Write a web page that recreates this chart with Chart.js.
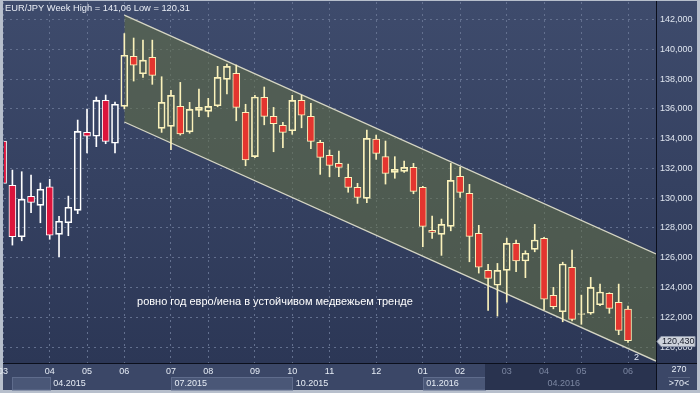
<!DOCTYPE html>
<html>
<head>
<meta charset="utf-8">
<script src="https://cdn.jsdelivr.net/npm/chart.js@4.4.0/dist/chart.umd.min.js"></script>
<style>
  html, body { margin: 0; padding: 0; background: #b7bfcc; }
  #wrap { width: 700px; height: 393px; }
</style>
</head>
<body>
<div id="wrap"><canvas id="chart" width="700" height="393"></canvas></div>
<script>
// ==== EUR/JPY weekly candles, week 0 = first week of March 2015 ====
const opens  = [133.84,130.86,127.41,130.13,129.52,130.77,127.57,128.35,129.18,134.42,
                134.16,136.57,133.69,136.17,139.53,138.36,139.46,134.69,134.83,136.17,
                134.46,135.90,135.83,136.21,137.98,138.39,135.77,132.79,136.78,135.50,
                134.89,134.53,136.57,135.50,133.75,132.88,132.34,131.40,130.73,129.99,
                133.97,132.79,131.74,131.80,132.07,130.73,127.84,127.57,128.11,131.47,
                130.33,127.64,125.15,124.15,125.15,126.97,125.78,126.56,127.30,123.47,
                122.37,125.36,122.20,122.27,122.84,123.61,123.00,122.55];
const highs  = [134.30,131.89,131.78,131.56,131.02,131.27,128.78,130.14,135.25,135.99,
                136.80,136.93,136.46,141.06,140.76,140.62,140.62,138.16,137.25,137.78,
                136.44,137.33,136.71,138.86,139.01,138.95,136.31,136.91,137.47,136.10,
                135.10,136.91,136.91,136.37,133.89,133.24,133.17,132.29,131.00,134.58,
                134.24,133.84,132.79,132.50,132.34,130.80,128.80,128.60,132.34,132.07,
                130.93,128.18,125.56,125.62,127.32,127.19,126.47,128.24,127.37,124.01,
                125.70,126.52,123.49,124.68,124.23,123.65,124.23,122.76];
const lows   = [130.60,126.85,127.14,129.02,128.35,127.24,126.07,127.48,128.96,133.05,
                133.46,133.66,133.05,136.00,137.87,138.12,137.65,134.42,133.26,134.24,
                134.36,135.47,135.47,136.14,137.00,135.20,132.18,132.72,134.93,133.12,
                133.39,134.29,134.73,133.32,131.60,131.44,131.44,130.40,129.65,129.70,
                132.61,130.95,131.34,131.74,130.30,126.74,127.30,126.16,127.81,130.06,
                125.73,124.97,122.47,122.08,123.02,125.06,124.66,126.40,122.49,122.57,
                121.70,121.75,121.53,122.20,122.78,122.27,120.83,120.31];
const closes = [131.00,127.41,129.94,129.72,130.60,127.51,128.45,129.39,134.49,134.16,
                136.57,133.82,136.31,139.60,138.93,139.28,138.25,136.44,136.91,134.31,
                135.97,136.10,136.17,138.12,138.86,136.10,132.58,136.80,135.50,135.00,
                134.42,136.57,135.57,133.82,132.74,132.21,132.07,130.73,130.06,134.02,
                133.01,131.67,131.94,132.07,130.46,128.11,127.71,128.24,131.20,130.39,
                127.44,125.36,124.62,125.15,126.97,125.78,126.30,127.19,123.21,122.71,
                125.58,121.86,122.25,124.01,123.70,122.60,121.12,120.43];

// x axis: month ticks (week index) and their labels
const monthTickIdx = [0, 5, 9, 13, 18, 22, 27, 31, 35, 40, 45, 49, 54, 58, 62, 67];
const monthTickLbl = ['03','04','05','06','07','08','09','10','11','12','01','02','03','04','05','06'];
// lower row: quarters
const quarterIdx = [5, 18, 31, 45, 58];
const quarterLbl = ['04.2015', '07.2015', '10.2015', '01.2016', '04.2016'];
const shadedFrom = [1, 18, 45];
const shadedTo   = [5, 31, 51.65];
const darkFrom = 51.65;

// y axis
const yTicks = [120, 122, 124, 126, 128, 130, 132, 134, 136, 138, 140, 142];

// trend channel: start/end week and prices on both lines
const channelX     = [13, 70];
const channelUpper = [142.30, 126.25];
const channelLower = [135.12, 119.06];

const titleText = 'EUR/JPY Week High = 141,06 Low = 120,31';
const noteText  = 'ровно год евро/иена в устойчивом медвежьем тренде';
const notePos   = [14.36, 123.02];
const lastPrice = 120.43;

Chart.defaults.font.family = '"Liberation Sans", Arial, sans-serif';
Chart.defaults.font.size = 9;

const FONT = '"Liberation Sans", Arial, sans-serif';
const inChan = i => i >= channelX[0];
const borderCol = closes.map((c, i) => inChan(i) ? '#fbf2bb' : '#ffffff');
const bodyCol = closes.map((c, i) => c >= opens[i] ? 'rgba(0,0,0,0)' : (inChan(i) ? '#e4352f' : '#dc143c'));

const bodyData  = opens.map((o, i) => ({ x: i, y: [o, closes[i]] }));
const upperWick = opens.map((o, i) => ({ x: i, y: [Math.max(o, closes[i]), highs[i]] }));
const lowerWick = opens.map((o, i) => ({ x: i, y: [lows[i], Math.min(o, closes[i])] }));

const fmt = v => v.toFixed(3).replace('.', ',');

const panels = {
  id: 'panels',
  beforeDraw(chart) {
    const { ctx, chartArea: a, scales: { x } } = chart;
    const W = chart.width, H = chart.height;
    ctx.save();
    ctx.fillStyle = '#b7bfcc';
    ctx.fillRect(0, 0, W, H);
    const g = ctx.createLinearGradient(0, a.top, 0, a.bottom);
    g.addColorStop(0, '#3e4b6c');
    g.addColorStop(1, '#2c3756');
    ctx.fillStyle = g;
    ctx.fillRect(3, 1, W - 6, a.bottom - 1);
    // bottom strip
    ctx.fillStyle = '#3b4767';
    ctx.fillRect(3, a.bottom, W - 6, H - 3 - a.bottom);
    // shaded quarters
    for (let k = 0; k < shadedFrom.length; k++) {
      const x0 = Math.round(x.getPixelForValue(shadedFrom[k])) + 0.5;
      const x1 = Math.round(x.getPixelForValue(shadedTo[k])) + 0.5;
      ctx.fillStyle = '#4a5777';
      ctx.fillRect(x0, 377.5, x1 - x0, 12.5);
      ctx.strokeStyle = '#5f6c8c';
      ctx.lineWidth = 1;
      ctx.strokeRect(x0, 377.5, x1 - x0, 12.5);
    }
    // dimmed part of the time strip
    const dx = Math.round(x.getPixelForValue(darkFrom));
    ctx.fillStyle = '#29334f';
    ctx.fillRect(dx, a.bottom, a.right - dx, H - 3 - a.bottom);
    // quarter labels
    ctx.font = '9px ' + FONT;
    ctx.textBaseline = 'middle';
    ctx.textAlign = 'left';
    quarterIdx.forEach((q, k) => {
      ctx.fillStyle = q >= darkFrom ? '#7c87a2' : '#e6ecf5';
      ctx.fillText(quarterLbl[k], x.getPixelForValue(q) + 3.5, 384);
    });
    ctx.restore();
  },
  afterDraw(chart) {
    const { ctx, chartArea: a, scales: { x, y } } = chart;
    const W = chart.width, H = chart.height;
    ctx.save();
    // separators
    ctx.strokeStyle = '#0b0f1c';
    ctx.lineWidth = 1;
    ctx.beginPath();
    ctx.moveTo(3, a.bottom + 0.5); ctx.lineTo(W - 3, a.bottom + 0.5);
    ctx.moveTo(a.right + 0.5, 1); ctx.lineTo(a.right + 0.5, H - 3);
    ctx.stroke();
    // title
    ctx.font = '9.3px ' + FONT;
    ctx.fillStyle = '#e9edf5';
    ctx.textBaseline = 'middle';
    ctx.textAlign = 'left';
    ctx.fillText(titleText, 5, 8.5);
    // note
    ctx.font = '11px ' + FONT;
    ctx.fillStyle = '#ffffff';
    ctx.fillText(noteText, x.getPixelForValue(notePos[0]), y.getPixelForValue(notePos[1]));
    // marker "2"
    ctx.font = '9px ' + FONT;
    ctx.fillStyle = '#e3e8f4';
    ctx.textAlign = 'center';
    ctx.fillText('2', x.getPixelForValue(67.9), y.getPixelForValue(119.3));
    // last price tag
    const py = Math.round(y.getPixelForValue(lastPrice)) + 0.5;
    ctx.beginPath();
    ctx.moveTo(a.right + 1, py);
    ctx.lineTo(a.right + 5, py - 5);
    ctx.lineTo(W - 5, py - 5);
    ctx.lineTo(W - 5, py + 5);
    ctx.lineTo(a.right + 5, py + 5);
    ctx.closePath();
    ctx.fillStyle = '#cdd2db';
    ctx.fill();
    ctx.strokeStyle = '#8e97aa';
    ctx.stroke();
    ctx.fillStyle = '#161c2b';
    ctx.textAlign = 'left';
    ctx.fillText(fmt(lastPrice), a.right + 6, py);
    // corner info
    ctx.fillStyle = '#e6ecf5';
    ctx.textAlign = 'center';
    ctx.fillText('270', 679, 370);
    ctx.fillText('>70<', 679, 384);
    ctx.strokeStyle = '#56627f';
    ctx.beginPath();
    ctx.moveTo(668, 377.5); ctx.lineTo(690, 377.5);
    ctx.stroke();
    ctx.restore();
  }
};

const chart = new Chart(document.getElementById('chart'), {
  data: {
    datasets: [
      { type: 'bar', data: bodyData, backgroundColor: bodyCol, borderColor: borderCol,
        borderWidth: 1, borderSkipped: false, barThickness: 7, grouped: false, clip: 0, order: 1 },
      { type: 'bar', data: upperWick, backgroundColor: borderCol, borderWidth: 0,
        barThickness: 1, grouped: false, clip: 0, order: 2 },
      { type: 'bar', data: lowerWick, backgroundColor: borderCol, borderWidth: 0,
        barThickness: 1, grouped: false, clip: 0, order: 3 },
      { type: 'line', data: channelX.map((v, i) => ({ x: v, y: channelUpper[i] })),
        borderColor: '#d6d6c4', borderWidth: 1.3, pointRadius: 0, fill: false, order: 4 },
      { type: 'line', data: channelX.map((v, i) => ({ x: v, y: channelLower[i] })),
        borderColor: '#d6d6c4', borderWidth: 1.3, pointRadius: 0,
        fill: '-1', backgroundColor: 'rgba(100,112,70,0.56)', order: 5 }
    ]
  },
  options: {
    responsive: false,
    animation: false,
    devicePixelRatio: 1,
    events: [],
    layout: { padding: { left: 4, top: 2, right: 3, bottom: 3 } },
    plugins: { legend: { display: false }, tooltip: { enabled: false } },
    scales: {
      x: {
        type: 'linear', min: 0.1, max: 70, offset: false,
        afterBuildTicks: s => { s.ticks = monthTickIdx.map(v => ({ value: v })); },
        afterFit: s => { s.height = 27; s.paddingLeft = 0; s.paddingRight = 0; },
        ticks: {
          autoSkip: false, maxRotation: 0, padding: 3,
          callback: v => monthTickLbl[monthTickIdx.indexOf(v)],
          color: c => (c.tick && c.tick.value >= darkFrom) ? '#7c87a2' : '#e6ecf5'
        },
        grid: { color: '#63708f', drawTicks: false, offset: false },
        border: { display: false, dash: [2, 4] }
      },
      y: {
        position: 'right', min: 118.93, max: 143.18,
        afterBuildTicks: s => { s.ticks = yTicks.map(v => ({ value: v })); },
        afterFit: s => { s.width = 41; s.paddingTop = 0; s.paddingBottom = 0; },
        ticks: { padding: 4, color: '#dfe5ef', callback: v => fmt(v) },
        grid: { color: '#63708f', drawTicks: false },
        border: { display: false, dash: [2, 4] }
      }
    }
  },
  plugins: [panels]
});
</script>
</body>
</html>
